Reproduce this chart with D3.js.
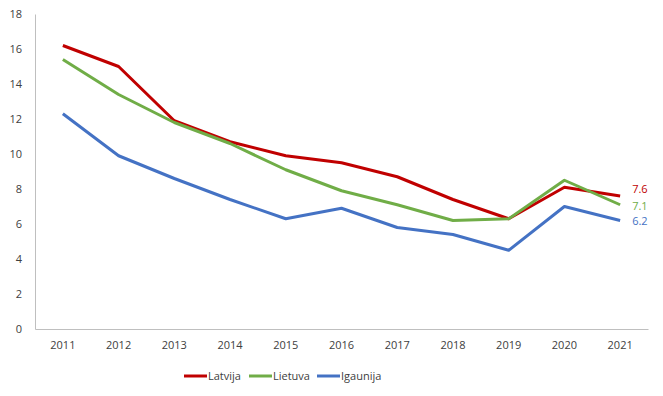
<!DOCTYPE html>
<html>
<head>
<meta charset="utf-8">
<script src="https://cdn.jsdelivr.net/npm/d3@7"></script>
<style>
  body { margin: 0; background: #fff; }
  svg text { font-family: "Open Sans", sans-serif; }
</style>
</head>
<body>
<svg id="chart" width="663" height="396"></svg>
<script>
// dati
const gadi = ['2011', '2012', '2013', '2014', '2015', '2016', '2017', '2018', '2019', '2020', '2021'];
const latvija = [16.2, 15.0, 11.9, 10.7, 9.9, 9.5, 8.7, 7.4, 6.3, 8.1, 7.6];
const lietuva = [15.4, 13.4, 11.8, 10.6, 9.1, 7.9, 7.1, 6.2, 6.3, 8.5, 7.1];
const igaunija = [12.3, 9.9, 8.6, 7.4, 6.3, 6.9, 5.8, 5.4, 4.5, 7.0, 6.2];
const yTicks = [0, 2, 4, 6, 8, 10, 12, 14, 16, 18];

const serijas = [
    { nosaukums: 'Latvija', vertibas: latvija, krasa: '#C00000' },
    { nosaukums: 'Lietuva', vertibas: lietuva, krasa: '#70AD47' },
    { nosaukums: 'Igaunija', vertibas: igaunija, krasa: '#4472C4' }
];

const svg = d3.select("#chart");
const margin = { top: 14, right: 15, bottom: 67, left: 35 };
const width = 663;
const height = 396;

const x = d3.scaleBand()
    .domain(gadi)
    .range([margin.left, width - margin.right]);

const y = d3.scaleLinear()
    .domain([0, 18])
    .range([height - margin.bottom, margin.top]);

// y ass
const yAxis = svg.append("g")
    .attr("transform", `translate(${margin.left},0)`)
    .call(d3.axisLeft(y).tickValues(yTicks).tickSize(0).tickPadding(13));
yAxis.select(".domain").attr("stroke", "#BFBFBF");
yAxis.selectAll("text").attr("font-size", 11).attr("fill", "#404040")
    .attr("font-family", "'Open Sans', sans-serif");

// x ass
const xAxis = svg.append("g")
    .attr("transform", `translate(0,${height - margin.bottom})`)
    .call(d3.axisBottom(x).tickSize(0).tickPadding(12));
xAxis.select(".domain").attr("stroke", "#BFBFBF");
xAxis.selectAll("text").attr("font-size", 11).attr("fill", "#404040")
    .attr("font-family", "'Open Sans', sans-serif");

const line = d3.line()
    .x((d, i) => x(gadi[i]) + x.bandwidth() / 2)
    .y(d => y(d));

svg.append("g")
    .selectAll("path")
    .data(serijas)
    .join("path")
    .attr("fill", "none")
    .attr("stroke", d => d.krasa)
    .attr("stroke-width", 3)
    .attr("stroke-linejoin", "round")
    .attr("d", d => line(d.vertibas));

// beigu vertibas
const pedejais = gadi.length - 1;
svg.append("g")
    .selectAll("text")
    .data(serijas)
    .join("text")
    .attr("x", x(gadi[pedejais]) + x.bandwidth() / 2 + 12)
    .attr("y", (d, i) => [189, 206, 221][i])
    .attr("dy", "0.35em")
    .attr("font-size", 11)
    .attr("fill", d => d.krasa)
    .text(d => d.vertibas[pedejais].toFixed(1));

// legenda
const legendX = [184, 249, 317];
const legend = svg.append("g")
    .selectAll("g")
    .data(serijas)
    .join("g")
    .attr("transform", (d, i) => `translate(${legendX[i]},376)`);

legend.append("line")
    .attr("x1", 0).attr("x2", 23)
    .attr("stroke", d => d.krasa)
    .attr("stroke-width", 3);

legend.append("text")
    .attr("x", 24)
    .attr("dy", "0.35em")
    .attr("font-size", 11)
    .attr("fill", "#404040")
    .text(d => d.nosaukums);
</script>
</body>
</html>
